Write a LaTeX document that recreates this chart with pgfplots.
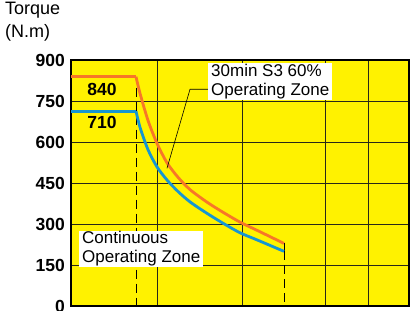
\documentclass[border=0pt]{standalone}
\usepackage{pgfplots}
\pgfplotsset{compat=1.18}
\usepackage{fontspec}
\setmainfont{Liberation Sans}
\definecolor{bgyel}{RGB}{255,242,0}
\definecolor{corange}{RGB}{247,119,40}
\definecolor{cblue}{RGB}{22,150,210}
\definecolor{gridc}{RGB}{40,40,25}
\begin{document}
\begin{tikzpicture}
\path[use as bounding box] (0,0) rectangle (411pt,310pt);
\node[anchor=base west, inner sep=0pt, font=\fontsize{18}{20}\selectfont] at (5pt,295pt) {Torque};
\node[anchor=base west, inner sep=0pt, font=\fontsize{18}{20}\selectfont] at (5pt,272.5pt) {(N.m)};
\begin{axis}[
  at={(71pt,3.7pt)}, anchor=south west,
  scale only axis, width=338pt, height=246pt,
  xmin=71, xmax=409, ymin=0, ymax=900,
  axis background/.style={fill=bgyel},
  xtick={157,242,325,368}, xticklabels={},
  ytick={0,150,300,450,600,750,900},
  major tick length=0pt,
  xmajorgrids, ymajorgrids,
  grid style={gridc, line width=0.9pt},
  axis line style={black, line width=1.8pt},
  /pgf/number format/assume math mode=true,
  yticklabel style={font=\fontsize{17.5}{20}\selectfont\bfseries, anchor=east, inner sep=0pt, xshift=-6pt},
  clip=false,
]
% dashed limits
\addplot[black, line width=0.9pt, dash pattern=on 9pt off 5pt] coordinates {(136,800) (136,0)};
\addplot[black, line width=0.9pt, dash pattern=on 9pt off 5pt] coordinates {(284,201) (284,0)};
\addplot[black, line width=0.9pt] coordinates {(284,232) (284,201)};
% orange S3 curve
\addplot[corange, line width=2.8pt, line join=round] coordinates {(71,840) (136,840)};
\addplot[corange, line width=2.8pt, line join=round, smooth, tension=0.45] coordinates {
 (136,840) (140,779) (148,680) (157,596) (167,525) (178,472) (190,427)
 (207,381) (223,344) (240,308) (257,278) (284,230)};
% blue continuous curve
\addplot[cblue, line width=2.8pt, line join=round] coordinates {(71,714) (136,714)};
\addplot[cblue, line width=2.8pt, line join=round, smooth, tension=0.45] coordinates {
 (136,714) (140,655) (148,573) (157,510) (167,462) (178,420) (190,382)
 (207,340) (223,304) (240,269) (257,243) (284,201)};
% leader line
\addplot[black, line width=0.6pt] coordinates {(208,794) (190,794) (167,505)};
% annotation boxes
\node[anchor=north west, fill=white, inner xsep=3pt, inner ysep=1pt, align=left,
  font=\fontsize{17}{19}\selectfont] at (axis cs:208,892) {30min S3 60\%\\Operating Zone};
\node[anchor=north west, fill=white, inner xsep=3pt, inner ysep=1pt, align=left,
  font=\fontsize{17}{19}\selectfont] at (axis cs:79,278) {Continuous\\Operating Zone};
\node[font=\fontsize{17.5}{20}\selectfont\bfseries] at (axis cs:102,792) {840};
\node[font=\fontsize{17.5}{20}\selectfont\bfseries] at (axis cs:102,672) {710};
\end{axis}
\end{tikzpicture}
\end{document}
